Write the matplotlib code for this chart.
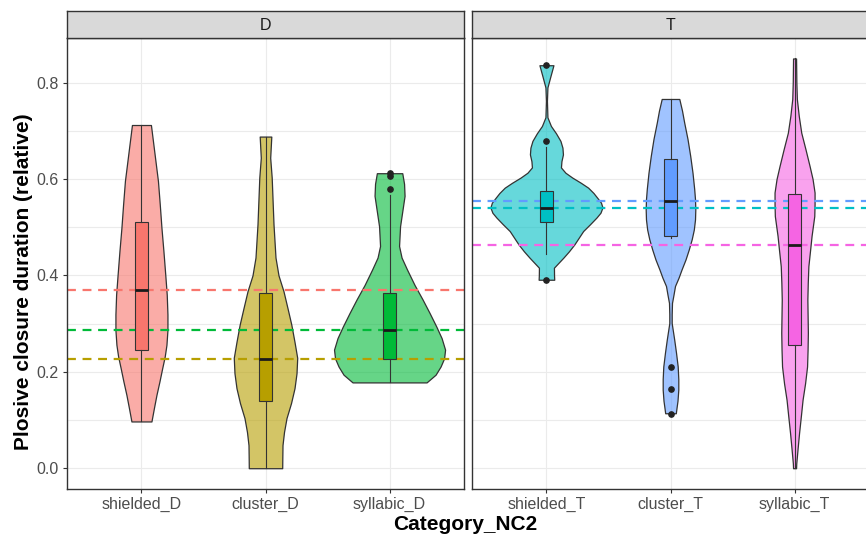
import matplotlib
matplotlib.use("Agg")
import matplotlib.pyplot as plt
import numpy as np

plt.rcParams['font.family'] = ['Liberation Sans', 'DejaVu Sans']

# facet panels and their categories
panels = ["D", "T"]
categories = {
    "D": ["shielded_D", "cluster_D", "syllabic_D"],
    "T": ["shielded_T", "cluster_T", "syllabic_T"],
}
colors = {
    "shielded_D": "#F8766D", "cluster_D": "#B79F00", "syllabic_D": "#00BA38",
    "shielded_T": "#00BFC4", "cluster_T": "#619CFF", "syllabic_T": "#F564E3",
}

# violin density profiles: y levels and density (relative units)
dens_y = {
    "shielded_D": [0.097, 0.125, 0.152, 0.180, 0.208, 0.232, 0.256, 0.287, 0.319, 0.360,
                   0.402, 0.450, 0.499, 0.548, 0.596, 0.654, 0.712],
    "cluster_D": [0.0, 0.020, 0.048, 0.075, 0.104, 0.135, 0.166, 0.197, 0.229, 0.262,
                  0.298, 0.332, 0.367, 0.400, 0.437, 0.506, 0.603, 0.644, 0.688],
    "syllabic_D": [0.178, 0.194, 0.211, 0.228, 0.246, 0.270, 0.294, 0.322, 0.350, 0.380,
                   0.412, 0.437, 0.461, 0.502, 0.530, 0.565, 0.590, 0.612],
    "shielded_T": [0.391, 0.400, 0.416, 0.437, 0.450, 0.464, 0.492, 0.506, 0.520, 0.530,
                   0.541, 0.551, 0.561, 0.571, 0.582, 0.592, 0.603, 0.613, 0.624, 0.637,
                   0.651, 0.665, 0.679, 0.695, 0.710, 0.728, 0.762, 0.790, 0.811, 0.836],
    "cluster_T": [0.114, 0.128, 0.140, 0.163, 0.185, 0.211, 0.240, 0.267, 0.301, 0.320,
                  0.343, 0.360, 0.378, 0.395, 0.412, 0.433, 0.454, 0.475, 0.495, 0.516,
                  0.537, 0.558, 0.579, 0.613, 0.648, 0.683, 0.717, 0.742, 0.766],
    "syllabic_T": [0.0, 0.010, 0.040, 0.073, 0.108, 0.142, 0.176, 0.211, 0.245, 0.281,
                   0.350, 0.385, 0.419, 0.452, 0.482, 0.523, 0.548, 0.572, 0.600, 0.627,
                   0.661, 0.696, 0.731, 0.766, 0.800, 0.850],
}
dens_val = {
    "shielded_D": [10, 12.5, 15, 18, 20.8, 23.3, 25, 26, 26, 25.3,
                   23.8, 22, 20, 18.3, 16.5, 13, 9.5],
    "cluster_D": [16.7, 16.8, 17, 18.5, 21, 25.5, 29, 31, 31.7, 29,
                  25.8, 22, 18, 13, 10, 8, 6.2, 4.7, 5.8],
    "syllabic_D": [37, 46, 51, 54.5, 55.5, 52, 46.7, 40, 33, 25,
                   17.5, 12, 9.5, 10.5, 12.5, 15, 14.5, 12.7],
    "shielded_T": [7.8, 7.6, 7.5, 17, 22.5, 27.8, 36.7, 43.5, 50, 54,
                   56, 54.5, 50.8, 47, 41.7, 34.5, 25.8, 19, 14.5, 15,
                   16.5, 16, 14, 9.5, 4.5, 1, 0.5, 1, 3.7, 7],
    "cluster_T": [5.3, 6.2, 7, 7.8, 7.8, 7.2, 5.5, 3.7, 1.2, 1.2,
                  1.5, 3, 4.5, 8, 11, 15, 18.3, 21.2, 23.3, 24.5,
                  24.8, 24.5, 23.7, 22, 19.7, 17, 13.7, 11.5, 8.8],
    "syllabic_T": [1.5, 1.7, 3, 4.5, 6.3, 8, 10.5, 12.5, 13, 13.3,
                   12.8, 13.2, 13.8, 15.5, 17, 19.7, 20, 20, 18, 15,
                   11, 6.7, 4.2, 2.3, 1.8, 1.5],
}

# boxplot summaries
q1 = {"shielded_D": 0.245, "cluster_D": 0.139, "syllabic_D": 0.227,
      "shielded_T": 0.511, "cluster_T": 0.481, "syllabic_T": 0.256}
med = {"shielded_D": 0.369, "cluster_D": 0.227, "syllabic_D": 0.286,
       "shielded_T": 0.540, "cluster_T": 0.554, "syllabic_T": 0.464}
q3 = {"shielded_D": 0.511, "cluster_D": 0.363, "syllabic_D": 0.363,
      "shielded_T": 0.575, "cluster_T": 0.642, "syllabic_T": 0.568}
whis_lo = {"shielded_D": 0.097, "cluster_D": 0.0, "syllabic_D": 0.178,
           "shielded_T": 0.445, "cluster_T": 0.477, "syllabic_T": 0.0}
whis_hi = {"shielded_D": 0.712, "cluster_D": 0.688, "syllabic_D": 0.566,
           "shielded_T": 0.667, "cluster_T": 0.766, "syllabic_T": 0.850}
outliers = {"shielded_D": [], "cluster_D": [], "syllabic_D": [0.612, 0.607, 0.580],
            "shielded_T": [0.836, 0.678, 0.391], "cluster_T": [0.211, 0.164, 0.113],
            "syllabic_T": []}

W, H = 866, 536
fig = plt.figure(figsize=(W / 100, H / 100), dpi=100)

panel_left = {"D": 67, "T": 472}
panel_w = 397
top, bottom = 38, 488.7
strip_top = 11

for p in panels:
    x0 = panel_left[p] / W
    ax = fig.add_axes([x0, (H - bottom) / H, panel_w / W, (bottom - top) / H])
    sax = fig.add_axes([x0, (H - top) / H, panel_w / W, (top - strip_top) / H])

    cats = categories[p]
    pos = np.arange(1, len(cats) + 1)

    # violins, scaled by their peak width
    stats = []
    widths = []
    for c in cats:
        yv = np.array(dens_y[c])
        dv = np.array(dens_val[c])
        stats.append({"coords": yv, "vals": dv, "mean": med[c], "median": med[c],
                      "min": yv.min(), "max": yv.max()})
        widths.append(2 * dv.max() / 124)
    vp = ax.violin(stats, positions=pos, widths=widths, showextrema=False)
    for body, c in zip(vp["bodies"], cats):
        body.set_alpha(None)
        body.set_facecolor(matplotlib.colors.to_rgba(colors[c], 0.6))
        body.set_edgecolor("#333333")
        body.set_linewidth(0.9)
        body.set_joinstyle("round")
        body.set_zorder(1)

    # dashed median lines per category
    for c in cats:
        ax.axhline(med[c], color=colors[c], ls=(0, (4, 3)), lw=1.6, zorder=2)

    bstats = [{"med": med[c], "q1": q1[c], "q3": q3[c], "whislo": whis_lo[c],
               "whishi": whis_hi[c], "fliers": outliers[c]} for c in cats]
    bp = ax.bxp(bstats, positions=pos, widths=0.105, patch_artist=True, showcaps=False,
                boxprops=dict(edgecolor="#333333", linewidth=0.8),
                whiskerprops=dict(color="#333333", linewidth=0.8),
                medianprops=dict(color="#1a1a1a", linewidth=2.0),
                flierprops=dict(marker="o", markerfacecolor="#222222",
                                markeredgecolor="#222222", markersize=3.8))
    for box, c in zip(bp["boxes"], cats):
        box.set_facecolor(colors[c])
    for key in ("boxes", "whiskers", "medians", "fliers"):
        for art in bp[key]:
            art.set_zorder(3)

    ax.set_xlim(0.4, 3.6)
    ax.set_ylim(-0.0425, 0.8925)
    ax.set_xticks(pos)
    ax.set_xticklabels(cats)
    ax.set_yticks([0.0, 0.2, 0.4, 0.6, 0.8])
    ax.set_yticks([0.1, 0.3, 0.5, 0.7], minor=True)
    ax.grid(True, which="both", color="#EBEBEB", lw=0.8)
    ax.set_axisbelow(True)
    ax.tick_params(axis="both", which="major", length=3, color="#333333",
                   labelsize=11.5, labelcolor="#4D4D4D", pad=3)
    ax.tick_params(axis="both", which="minor", length=0)
    if p != "D":
        ax.tick_params(axis="y", which="major", length=0, labelleft=False)
    for s in ax.spines.values():
        s.set_color("#333333")
        s.set_linewidth(1.0)

    sax.set_facecolor("#D9D9D9")
    sax.set_xticks([])
    sax.set_yticks([])
    for s in sax.spines.values():
        s.set_color("#333333")
        s.set_linewidth(1.0)
    sax.text(0.5, 0.45, p, ha="center", va="center", fontsize=11.5,
             color="#1A1A1A", transform=sax.transAxes)

fig.text(465 / W, (H - 524) / H, "Category_NC2", ha="center", va="center",
         fontsize=15, fontweight="bold")
fig.text(24 / W, (H - 282) / H, "Plosive closure duration (relative)", ha="center",
         va="center", rotation=90, fontsize=15, fontweight="bold")

fig.savefig("out.png", dpi=100)
